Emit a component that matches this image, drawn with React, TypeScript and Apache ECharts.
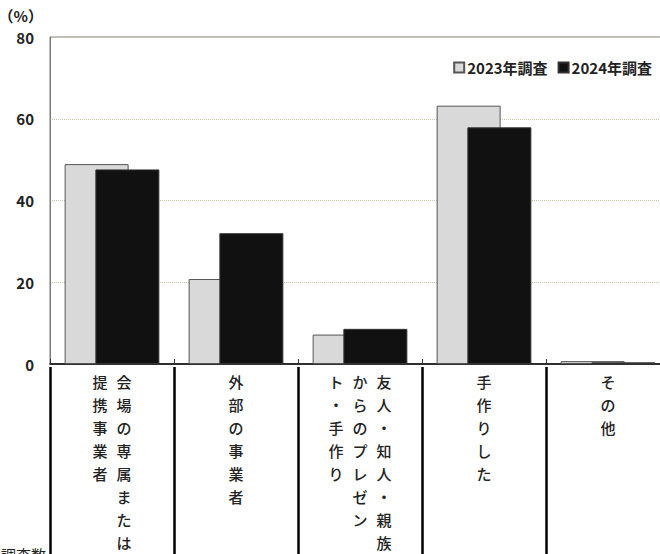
import React, { useEffect, useRef } from "react";
import * as echarts from "echarts";

// each label is a list of vertical columns, read right to left
const categoryColumns = [
  ["会場の専属または", "提携事業者"],
  ["外部の事業者"],
  ["友人・知人・親族", "からのプレゼン", "ト・手作り"],
  ["手作りした"],
  ["その他"],
];
const categories = categoryColumns.map((cols) => cols.join(""));

const seriesNames = ["2023年調査", "2024年調査"];
const values2023 = [48.9, 20.8, 7.2, 63.2, 0.7];
const values2024 = [47.6, 32.0, 8.6, 57.9, 0.4];

const yTicks = { min: 0, max: 80, interval: 20 };

const FONT = "'Noto Sans CJK JP', 'Noto Sans', sans-serif";

const verticalLabel = (value: string) => {
  const idx = categories.indexOf(value);
  const cols = categoryColumns[idx] || [value];
  const rows = Math.max(...cols.map((c) => c.length));
  const lines: string[] = [];
  for (let i = 0; i < rows; i++) {
    // leftmost column is the last one
    const cells = [...cols].reverse().map((c) => `{c|${c[i] ?? "　"}}`);
    lines.push(cells.join(""));
  }
  return lines.join("\n");
};

const App = () => {
  const chartRef = useRef<HTMLDivElement>(null);

  useEffect(() => {
    if (!chartRef.current) return;
    const chart = echarts.init(chartRef.current, null, { renderer: "svg" });

    const options = {
      animation: false,
      textStyle: { fontFamily: FONT },
      grid: {
        left: 50,
        top: 37,
        width: 620,
        height: 327,
        outerBoundsMode: "none",
        containLabel: false,
        show: true,
        borderColor: "#7a7a7a",
        borderWidth: 1,
      },
      legend: {
        right: 3,
        top: 55,
        icon: "rect",
        itemWidth: 10,
        itemHeight: 10,
        itemGap: 10,
        textStyle: {
          fontSize: 15,
          fontWeight: "bold",
          color: "#222",
          fontFamily: FONT,
          padding: [0, 0, 0, -2],
        },
        data: seriesNames,
      },
      xAxis: [
        {
          type: "category",
          data: categories,
          axisLine: { lineStyle: { color: "#000", width: 1.5 } },
          axisTick: { show: true, interval: 0, inside: true, length: 5, lineStyle: { color: "#333" } },
          axisLabel: {
            interval: 0,
            margin: 6,
            formatter: verticalLabel,
            rich: {
              c: {
                width: 24,
                align: "center",
                fontSize: 15,
                lineHeight: 23,
                color: "#222",
                fontWeight: 500,
                fontFamily: FONT,
              },
            },
          },
          splitLine: { show: false },
        },
        {
          type: "category",
          data: categories,
          position: "bottom",
          offset: 3,
          axisLine: { show: false },
          axisTick: { show: true, interval: 0, length: 200, lineStyle: { color: "#000", width: 2.5 } },
          axisLabel: { show: false },
          splitLine: { show: false },
        },
      ],
      yAxis: {
        type: "value",
        min: yTicks.min,
        max: yTicks.max,
        interval: yTicks.interval,
        name: "（%）",
        nameLocation: "end",
        nameGap: 14,
        nameTextStyle: {
          align: "right",
          padding: [0, 7, 0, 0],
          fontSize: 15,
          color: "#222",
          fontWeight: "bold",
          fontFamily: FONT,
        },
        axisLine: { show: true, lineStyle: { color: "#7a7a7a" } },
        axisTick: { show: false },
        axisLabel: { margin: 16, fontSize: 15, color: "#222", fontWeight: "bold", fontFamily: FONT },
        splitLine: { lineStyle: { type: "dotted", color: "#cfc6a8" } },
      },
      series: [
        {
          name: seriesNames[0],
          type: "bar",
          xAxisIndex: 0,
          data: values2023,
          barWidth: 64,
          barGap: "-52%",
          itemStyle: { color: "#d9d9d9", borderColor: "#555", borderWidth: 1 },
        },
        {
          name: seriesNames[1],
          type: "bar",
          xAxisIndex: 0,
          data: values2024,
          barWidth: 64,
          itemStyle: { color: "#111", borderColor: "#333", borderWidth: 1 },
        },
      ],
      graphic: [
        {
          type: "text",
          x: 46,
          y: 547,
          style: {
            text: "調査数",
            fontSize: 15,
            fill: "#222",
            textAlign: "right",
            textVerticalAlign: "top",
            fontFamily: FONT,
          },
        },
      ],
    };

    chart.setOption(options);
    return () => chart.dispose();
  }, []);

  return (
    <div
      ref={chartRef}
      style={{ position: "absolute", left: 0, top: 0, width: "660px", height: "554px", background: "#fff" }}
    />
  );
};

export default App;
